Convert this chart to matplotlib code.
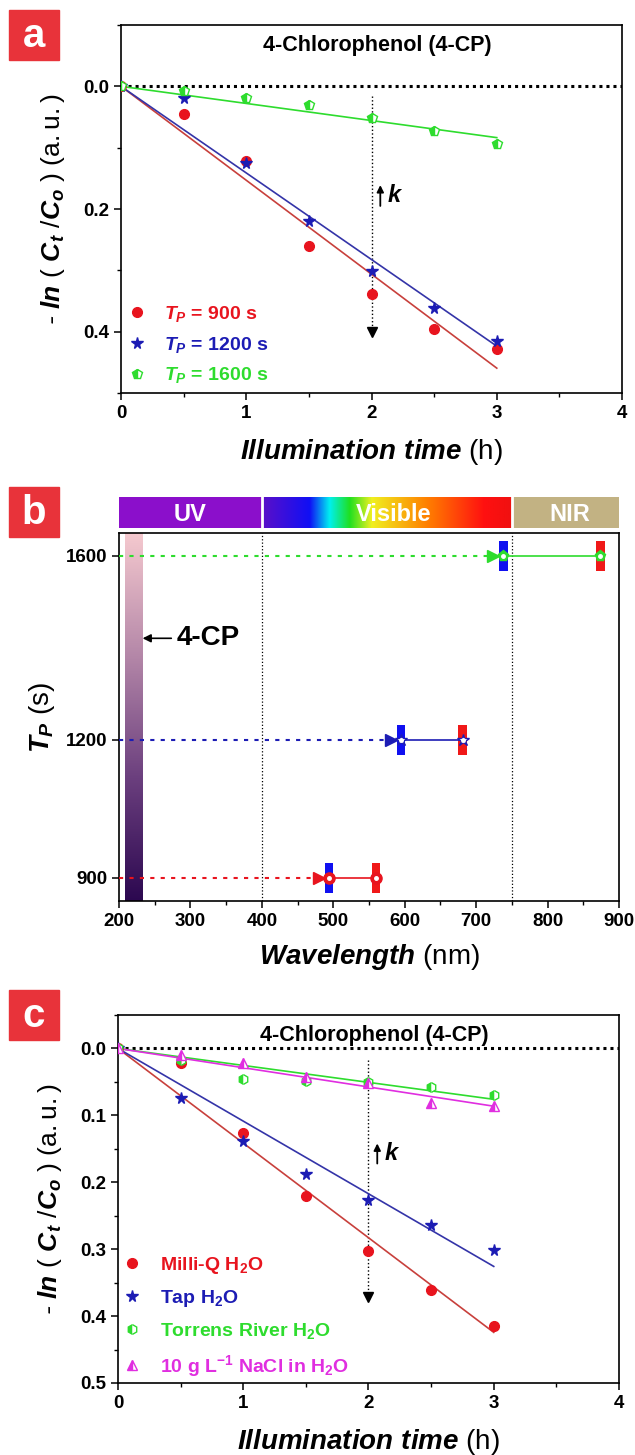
import matplotlib.pyplot as plt
import numpy as np
from matplotlib.colors import LinearSegmentedColormap
from matplotlib.patches import Rectangle
from matplotlib.ticker import MultipleLocator

plt.rcParams['font.family'] = ['Liberation Sans', 'DejaVu Sans']
plt.rcParams['font.weight'] = 'bold'
plt.rcParams['mathtext.fontset'] = 'custom'
plt.rcParams['mathtext.it'] = 'Liberation Sans:italic:bold'
plt.rcParams['mathtext.bf'] = 'Liberation Sans:bold'
plt.rcParams['mathtext.rm'] = 'Liberation Sans:regular'

# illumination time (h)
t_h = [0, 0.5, 1, 1.5, 2, 2.5, 3]

# panel a: -ln(Ct/Co) for each TP
a_900 = [0, 0.045, 0.121, 0.261, 0.339, 0.395, 0.428]
a_1200 = [0, 0.019, 0.125, 0.219, 0.301, 0.361, 0.415]
a_1600 = [0, 0.008, 0.019, 0.030, 0.052, 0.072, 0.094]

# panel c: different water matrices
c_milliq = [0, 0.021, 0.126, 0.220, 0.302, 0.361, 0.415]
c_tap = [0, 0.074, 0.138, 0.187, 0.226, 0.264, 0.301]
c_river = [0, 0.017, 0.045, 0.049, 0.050, 0.057, 0.069]
c_nacl = [0, 0.010, 0.022, 0.042, 0.052, 0.081, 0.086]

# panel b: stop band edges (nm) vs TP (s)
tp_s = [900, 1200, 1600]
edge_blue_nm = [494, 595, 738]
edge_red_nm = [560, 681, 874]

RED = '#E8141E'
BLUE = '#1C1CB4'
GREEN = '#2EDC2E'
MAGENTA = '#E02EE0'

YLABEL = r'- $\mathit{ln\ (\ C_t\ /C_o\ )}$ $\mathrm{(a.u.)}$'


def fit_k(t, y):
    t = np.asarray(t)
    y = np.asarray(y)
    return np.sum(t * y) / np.sum(t * t)


def style_axes(ax):
    for s in ax.spines.values():
        s.set_linewidth(1.2)
    ax.tick_params(which='major', direction='out', length=5, width=1.1, labelsize=13.5)
    ax.tick_params(which='minor', direction='out', length=3, width=1.0)
    for lab in ax.get_xticklabels() + ax.get_yticklabels():
        lab.set_fontweight('bold')


def panel_letter(fig, letter, y0):
    fig.patches.append(Rectangle((0.0142, y0), 0.0787, 0.0344, transform=fig.transFigure,
                                 color='#E8333A', zorder=5))
    fig.text(0.0142 + 0.0787 / 2, y0 + 0.0344 / 2 - 0.001, letter, color='white', fontsize=29,
             fontweight='bold', ha='center', va='center', zorder=6)


def kinetics(ax, series, ylim, yticks, minor, title_y, k_y, k_len, arrow_top, arrow_bot,
             leg_anchor, leg_space):
    for y, c, lc, mk, ms, fs, name in series:
        k = fit_k(t_h, y)
        tt = np.array([0, 3])
        ax.plot(tt, k * tt, color=lc, lw=1.2, zorder=2)
        ax.plot(t_h, y, ls='none', marker=mk, ms=ms, color=c, mec=c, fillstyle=fs,
                markerfacecoloralt='white', label=name, zorder=3)
    ax.axhline(0, color='black', ls=(0, (1, 1.3)), lw=2.2, zorder=1)
    ax.plot([2, 2], [arrow_top, arrow_bot], color='black', ls=':', lw=1.0, zorder=1)
    ax.plot([2], [arrow_bot], marker='v', color='black', ms=7, zorder=1)
    ax.annotate('', xy=(2.07, k_y - k_len / 2), xytext=(2.07, k_y + k_len / 2),
                arrowprops=dict(arrowstyle='-|>', color='black', lw=1.3, mutation_scale=10,
                                shrinkA=0, shrinkB=0))
    ax.text(2.12, k_y, r'$\mathit{k}$', fontsize=17, ha='left', va='center')
    ax.text(2.05, title_y, '4-Chlorophenol (4-CP)', fontsize=15.5, ha='center', va='center',
            fontweight='bold')
    ax.set_xlim(0, 4)
    ax.set_ylim(*ylim)
    ax.set_xticks([0, 1, 2, 3, 4])
    ax.xaxis.set_minor_locator(MultipleLocator(0.5))
    ax.set_yticks(yticks)
    ax.yaxis.set_minor_locator(MultipleLocator(minor))
    ax.set_xlabel(r'$\mathit{Illumination\ time}$ $\mathrm{(h)}$', fontsize=20, labelpad=11)
    ax.set_ylabel(YLABEL, fontsize=19, labelpad=12, fontstyle='italic')
    leg = ax.legend(loc='lower left', bbox_to_anchor=leg_anchor, frameon=False, fontsize=14,
                    handlelength=0.8, handletextpad=1.0, labelspacing=leg_space, borderpad=0,
                    labelcolor='linecolor')
    for txt in leg.get_texts():
        txt.set_fontweight('bold')
    style_axes(ax)


fig = plt.figure(figsize=(6.35, 14.55), dpi=100)

# ---------------- panel a
ax1 = fig.add_axes([0.1906, 0.7299, 0.789, 0.2529])
kinetics(ax1,
         [(a_900, RED, '#C8403C', 'o', 7, 'full', r'$\mathit{T}_\mathit{P}$ = 900 s'),
          (a_1200, BLUE, '#3434A8', '*', 8.5, 'full', r'$\mathit{T}_\mathit{P}$ = 1200 s'),
          (a_1600, GREEN, GREEN, 'p', 7, 'left', r'$\mathit{T}_\mathit{P}$ = 1600 s')],
         (0.5, -0.1), [0.0, 0.2, 0.4], 0.1, -0.066, 0.178, 0.034, 0.015, 0.40,
         (-0.004, -0.006), 0.55)
ax1.yaxis.set_major_formatter(plt.FormatStrFormatter('%.1f'))

# ---------------- panel b
ax2 = fig.add_axes([0.1874, 0.3808, 0.7874, 0.2529])
cp_cmap = LinearSegmentedColormap.from_list('cp', ['#2C0850', '#6B3F7E', '#B487A8', '#F5C9CF'])
ax2.imshow(np.linspace(0, 1, 256).reshape(-1, 1), cmap=cp_cmap, origin='lower',
           extent=[208, 232, 850, 1650], aspect='auto', zorder=1)
ax2.axvline(400, color='black', ls=':', lw=0.9)
ax2.axvline(750, color='black', ls=':', lw=0.9)
for tp, xb, xr, c, mk in zip(tp_s, edge_blue_nm, edge_red_nm, [RED, BLUE, GREEN], ['o', '*', 'p']):
    ax2.bar([xb], [66], width=12, bottom=tp - 33, color='#1010F0', zorder=2)
    ax2.bar([xr], [66], width=12, bottom=tp - 33, color='#F01818', zorder=2)
    ax2.plot([200, xb - 16], [tp, tp], color=c, ls=(0, (2, 3)), lw=1.5, zorder=3)
    ax2.plot([xb - 14], [tp], marker='>', color=c, ms=9, zorder=3)
    ax2.plot([xb, xr], [tp, tp], color=c, lw=1.2, zorder=3)
    ax2.plot([xb, xr], [tp, tp], ls='none', marker=mk, ms=9 if mk == '*' else 8, color=c,
             mfc=c if mk != '*' else 'white', mec=c, zorder=4)
    ax2.plot([xb, xr], [tp, tp], ls='none', marker='o', ms=2.5, color='white', zorder=5)
ax2.annotate('4-CP', xy=(233, 1421), xytext=(281, 1421), fontsize=20, fontweight='bold',
             va='center', ha='left',
             arrowprops=dict(arrowstyle='-|>', color='black', lw=1.2, mutation_scale=12,
                             shrinkA=2, shrinkB=0))
ax2.set_xlim(200, 900)
ax2.set_ylim(850, 1650)
ax2.set_xticks(range(200, 901, 100))
ax2.xaxis.set_minor_locator(MultipleLocator(50))
ax2.set_yticks(tp_s)
ax2.set_xlabel(r'$\mathit{Wavelength}$ $\mathrm{(nm)}$', fontsize=20, labelpad=9)
ax2.set_ylabel(r'$\mathit{T}_\mathit{P}$ $\mathrm{(s)}$', fontsize=20, labelpad=6)
style_axes(ax2)

# spectrum bar above panel b
axs = fig.add_axes([0.1874, 0.6371, 0.7874, 0.0213])
spec = LinearSegmentedColormap.from_list('spec', [(0, '#5B0FC8'), (0.19, '#1010F5'), (0.27, '#00F0F0'),
                                                 (0.35, '#20E020'), (0.44, '#F0F020'), (0.66, '#FF8000'),
                                                 (0.89, '#FF1010'), (1.0, '#F01010')])
axs.add_patch(Rectangle((200, 0), 200, 1, color='#8B0FCB'))
axs.imshow(np.linspace(0, 1, 256).reshape(1, -1), cmap=spec, extent=[400, 750, 0, 1], aspect='auto')
axs.add_patch(Rectangle((750, 0), 150, 1, color='#C2B283'))
axs.axvline(400, color='white', lw=2)
axs.axvline(750, color='white', lw=2)
for xc, name in [(300, 'UV'), (584, 'Visible'), (831, 'NIR')]:
    axs.text(xc, 0.45, name, color='white', fontsize=17, fontweight='bold', ha='center', va='center')
axs.set_xlim(200, 900)
axs.set_ylim(0, 1)
axs.axis('off')

# ---------------- panel c
ax3 = fig.add_axes([0.1858, 0.0495, 0.789, 0.2529])
kinetics(ax3,
         [(c_milliq, RED, '#C8403C', 'o', 7, 'full', r'Milli-Q H$_\mathbf{2}$O'),
          (c_tap, BLUE, '#3434A8', '*', 8.5, 'full', r'Tap H$_\mathbf{2}$O'),
          (c_river, GREEN, GREEN, 'h', 7, 'left', r'Torrens River H$_\mathbf{2}$O'),
          (c_nacl, MAGENTA, MAGENTA, '^', 7, 'left', r'10 g L$^\mathbf{-1}$ NaCl in H$_\mathbf{2}$O')],
         (0.5, -0.05), [0.0, 0.1, 0.2, 0.3, 0.4, 0.5], 0.05, -0.02, 0.157, 0.03, 0.017, 0.371,
         (-0.006, -0.016), 0.62)
ax3.yaxis.set_major_formatter(plt.FormatStrFormatter('%.1f'))

panel_letter(fig, 'a', 0.9588)
panel_letter(fig, 'b', 0.6309)
panel_letter(fig, 'c', 0.2852)

fig.savefig('out.png', dpi=100)
